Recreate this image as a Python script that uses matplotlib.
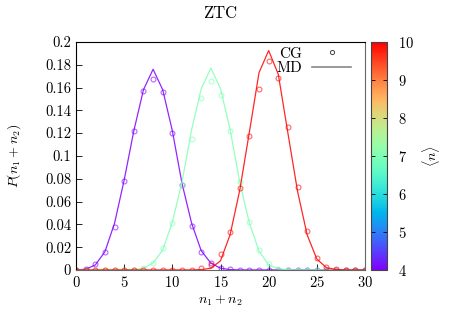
import numpy as np
import matplotlib
matplotlib.use('Agg')
import matplotlib.pyplot as plt
from matplotlib.ticker import FormatStrFormatter
from matplotlib.lines import Line2D

plt.rcParams['font.family'] = 'serif'
plt.rcParams['font.serif'] = ['cmr10']
plt.rcParams['mathtext.fontset'] = 'cm'
plt.rcParams['axes.formatter.use_mathtext'] = True
plt.rcParams['font.size'] = 10

n = np.arange(0, 31)
mean_n = [4, 7, 10]

# MD (lines)
md_4 = [0, 0.0006, 0.0044, 0.016, 0.041, 0.079, 0.122, 0.158, 0.176, 0.158,
        0.122, 0.076, 0.041, 0.0168, 0.006, 0.0015, 0.0003] + [0] * 14
md_7 = [0, 0, 0, 0, 0, 0, 0.0003, 0.0015, 0.006, 0.0175, 0.042, 0.077, 0.123,
        0.159, 0.177, 0.159, 0.123, 0.077, 0.041, 0.0166, 0.0044, 0.001,
        0.0002] + [0] * 8
md_10 = [0] * 13 + [0.0003, 0.0015, 0.008, 0.031, 0.070, 0.121, 0.173, 0.1924,
                    0.1716, 0.120, 0.069, 0.0307, 0.0096, 0.002, 0.0004, 0, 0, 0]

# CG (points)
cg_4 = [0, 0.001, 0.005, 0.0158, 0.038, 0.078, 0.1216, 0.157, 0.1675, 0.156,
        0.120, 0.0746, 0.0389, 0.016, 0.0059, 0.0015, 0.0004] + [0] * 14
cg_7 = [0, 0, 0, 0, 0, 0, 0.0002, 0.002, 0.0064, 0.019, 0.0415, 0.0746, 0.1146,
        0.151, 0.166, 0.153, 0.122, 0.0775, 0.0424, 0.0175, 0.0053, 0.0009,
        0.0002] + [0] * 8
cg_10 = [0] * 13 + [0.0015, 0.0045, 0.0137, 0.0336, 0.072, 0.1175, 0.159, 0.183,
                    0.168, 0.125, 0.073, 0.0342, 0.0102, 0.003, 0.0005, 0, 0, 0]

md_all = [md_4, md_7, md_10]
cg_all = [cg_4, cg_7, cg_10]

fig = plt.figure(figsize=(4.5, 3.15), dpi=100)
ax = fig.add_axes([0.169, 0.143, 0.642, 0.724])
cax = fig.add_axes([0.824, 0.143, 0.036, 0.724])

cmap = plt.get_cmap('rainbow')
norm = matplotlib.colors.Normalize(vmin=4, vmax=10)

for m, md, cg in zip(mean_n, md_all, cg_all):
    c = cmap(norm(m))
    ax.plot(n, md, '-', color=c, lw=0.9, alpha=0.85)
    ax.plot(n, cg, 'o', mfc='none', mec=c, ms=3.5, mew=0.8, alpha=0.6)

ax.set_xlim(0, 30)
ax.set_ylim(0, 0.2)
ax.set_xticks(np.arange(0, 31, 5))
ax.set_yticks(np.arange(0, 0.201, 0.02))
ax.yaxis.set_major_formatter(FormatStrFormatter('%g'))
ax.tick_params(direction='in', length=4, width=0.6, top=False, right=False,
               labelsize=10.5)
ax.spines['right'].set_color('#666666')
ax.spines['bottom'].set_color('#666666')

ax.set_xlabel(r'$n_1+n_2$', labelpad=3)
ax.set_ylabel(r'$P(n_1+n_2)$', labelpad=16)
ax.set_title('ZTC', pad=17)

handles = [Line2D([], [], ls='none', marker='o', mfc='none', mec='#444444', ms=3, mew=0.7),
           Line2D([], [], color='#888888', lw=1.2)]
ax.legend(handles, ['CG', 'MD'], loc='upper right', bbox_to_anchor=(0.99, 1.025),
          frameon=False, markerfirst=False, handlelength=2.6, handletextpad=0.6,
          labelspacing=0.05, borderpad=0.2, fontsize=11)

sm = matplotlib.cm.ScalarMappable(norm=norm, cmap=cmap)
cb = fig.colorbar(sm, cax=cax)
cb.set_ticks(np.arange(4, 11, 1))
cb.ax.tick_params(direction='in', length=3, width=0.6, left=True, right=True, pad=8,
                  labelsize=10.5)
cb.outline.set_edgecolor('#444444')
cb.set_label(r'$\langle n\rangle$', labelpad=4)

fig.savefig('out.png', dpi=100)
